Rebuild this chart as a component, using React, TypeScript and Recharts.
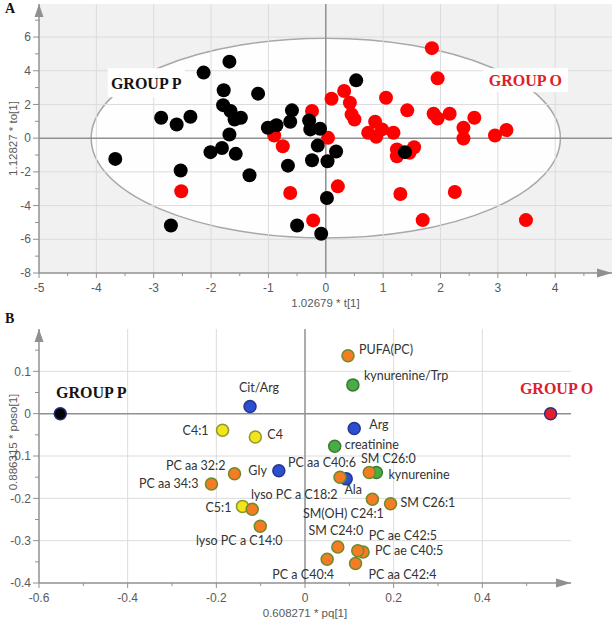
import React from 'react';
import {
  ScatterChart,
  Scatter,
  XAxis,
  YAxis,
  ReferenceLine,
  ReferenceArea,
  ReferenceDot,
  CartesianGrid,
} from 'recharts';

// ---------------- Panel A : scores t[1] vs to[1] ----------------
const groupP_t = [-3.67, -2.87, -2.6, -2.36, -2.53, -2.7, -2.13, -1.68, -1.78, -1.79, -1.66, -1.59, -1.48, -1.68, -2.01, -1.81, -1.57, -1.33, -1.18, -1.01, -0.86, -0.62, -0.59, -0.66, -0.5, -0.29, -0.27, -0.1, -0.14, -0.24, 0.03, 0.18, 0.02, -0.08, 0.53, 1.38];
const groupP_to = [-1.23, 1.21, 0.81, 1.27, -1.92, -5.18, 3.89, 4.54, 2.84, 1.96, 1.61, 1.11, 1.21, 0.22, -0.83, -0.58, -0.93, -2.2, 2.64, 0.62, 0.77, 0.97, 1.65, -1.63, -5.18, 1.05, 0.52, 0.56, -0.44, -1.31, -1.37, -0.79, -3.55, -5.67, 3.43, -0.83];
const groupO_t = [-2.52, -0.9, -0.75, -0.62, -0.24, -0.22, 0.04, 0.1, 0.21, 0.32, 0.42, 0.45, 0.5, 0.74, 0.86, 0.88, 0.98, 1.05, 1.18, 1.24, 1.24, 1.42, 1.54, 1.46, 1.3, 1.69, 1.85, 1.95, 1.88, 1.95, 2.16, 2.25, 2.4, 2.4, 2.59, 2.95, 3.15, 3.49];
const groupO_to = [-3.15, 0.16, -0.48, -3.25, 1.61, -4.88, 0.02, 2.34, -2.86, 2.8, 2.1, 1.41, 1.11, 0.32, 0.97, 0.08, 0.52, 2.4, 0.32, -0.67, -1.07, 1.65, -0.54, -0.87, -3.31, -4.86, 5.34, 3.55, 1.45, 1.17, 1.45, -3.19, 0.62, -0.02, 1.21, 0.16, 0.48, -4.86];

// Hotelling T2 ellipse (semi-axes in data units)
const ellipseRx = 4.09;
const ellipseRy = 5.93;

const aXDomain: [number, number] = [-5, 4.99];
const aYDomain: [number, number] = [-8, 7.96];
const aXMajor = [-5, -4, -3, -2, -1, 0, 1, 2, 3, 4];
const aXMinor = [-4.5, -3.5, -2.5, -1.5, -0.5, 0.5, 1.5, 2.5, 3.5, 4.5];
const aYMajor = [-8, -6, -4, -2, 0, 2, 4, 6];
const aYMinor = [-7, -5, -3, -1, 1, 3, 5, 7];
const aXGrid = [-4, -3, -2, -1, 1, 2, 3, 4];
const aYGrid = [-6, -4, -2, 2, 4, 6];

// annotation anchors (data units)
const aLabels = [
  { text: 'GROUP P', x: -3.13, y: 3.29, w: 77, h: 29, color: '#141414' },
  { text: 'GROUP O', x: 3.48, y: 3.44, w: 85, h: 24, color: '#e0202b' },
];

// ---------------- Panel B : loadings pq[1] vs poso[1] ----------------
const varNames = ['PUFA(PC)', 'kynurenine/Trp', 'Cit/Arg', 'Arg', 'C4:1', 'C4', 'creatinine', 'Gly', 'Ala', 'PC aa C40:6', 'kynurenine', 'SM C26:0', 'PC aa 32:2', 'PC aa 34:3', 'C5:1', 'lyso PC a C18:2', 'lyso PC a C14:0', 'SM(OH) C24:1', 'SM C26:1', 'SM C24:0', 'PC ae C40:5', 'PC ae C42:5', 'PC a C40:4', 'PC aa C42:4', 'GROUP P', 'GROUP O'];
const varClass = ['lipid', 'amine', 'amino', 'amino', 'acyl', 'acyl', 'amine', 'amino', 'amino', 'lipid', 'amine', 'lipid', 'lipid', 'lipid', 'acyl', 'lipid', 'lipid', 'lipid', 'lipid', 'lipid', 'lipid', 'lipid', 'lipid', 'lipid', 'groupP', 'groupO'];
const varPq = [0.097, 0.108, -0.124, 0.111, -0.186, -0.112, 0.067, -0.059, 0.093, 0.079, 0.161, 0.145, -0.159, -0.211, -0.141, -0.119, -0.101, 0.152, 0.193, 0.074, 0.131, 0.119, 0.05, 0.114, -0.552, 0.554];
const varPoso = [0.137, 0.068, 0.017, -0.035, -0.039, -0.055, -0.077, -0.135, -0.154, -0.15, -0.139, -0.139, -0.142, -0.166, -0.219, -0.226, -0.266, -0.202, -0.213, -0.315, -0.327, -0.324, -0.344, -0.354, 0, 0];

const bXDomain: [number, number] = [-0.6, 0.6];
const bYDomain: [number, number] = [-0.4, 0.2];
const bXMajor = [-0.6, -0.4, -0.2, 0, 0.2, 0.4];
const bXMinor = [-0.5, -0.3, -0.1, 0.1, 0.3, 0.5];
const bYMajor = [-0.4, -0.3, -0.2, -0.1, 0, 0.1];
const bYMinor = [-0.35, -0.25, -0.15, -0.05, 0.05, 0.15];
const bXGrid = [-0.4, -0.2, 0.2, 0.4];
const bYGrid = [-0.3, -0.2, -0.1, 0.1];

// ---------------- styling ----------------
const AXIS = '#909090';
const GRID = '#dcdcdc';
const TXT = '#5a5a5a';
const SANS = '"Liberation Sans", Arial, sans-serif';
const LABEL_FONT = 'Lato, "Open Sans", sans-serif';
const SERIF = '"Liberation Serif", "Times New Roman", serif';

const CLASS_STYLE: Record<string, { fill: string; stroke: string }> = {
  lipid: { fill: '#f47c22', stroke: '#6c8a2c' },
  amine: { fill: '#4aac48', stroke: '#3a7a2e' },
  amino: { fill: '#2c4ed0', stroke: '#28368c' },
  acyl: { fill: '#f5e41c', stroke: '#8a9a2e' },
  groupP: { fill: '#050505', stroke: '#1f2a7c' },
  groupO: { fill: '#e3202c', stroke: '#2c2f7e' },
};

// label placement relative to each point (pixels)
const LABEL_PLACE: Record<string, { dx: number; dy: number; anchor: string }> = {
  'PUFA(PC)': { dx: 11, dy: -6, anchor: 'start' },
  'kynurenine/Trp': { dx: 11, dy: -9, anchor: 'start' },
  'Cit/Arg': { dx: 9, dy: -19, anchor: 'middle' },
  Arg: { dx: 15, dy: -4, anchor: 'start' },
  'C4:1': { dx: -14, dy: 0, anchor: 'end' },
  C4: { dx: 12, dy: -2, anchor: 'start' },
  creatinine: { dx: 10, dy: -2, anchor: 'start' },
  Gly: { dx: -12, dy: 0, anchor: 'end' },
  'PC aa C40:6': { dx: -18, dy: -15, anchor: 'middle' },
  Ala: { dx: 7, dy: 11, anchor: 'middle' },
  'SM C26:0': { dx: 19, dy: -14, anchor: 'middle' },
  kynurenine: { dx: 12, dy: 2, anchor: 'start' },
  'PC aa 32:2': { dx: -9, dy: -8, anchor: 'end' },
  'PC aa 34:3': { dx: -13, dy: 0, anchor: 'end' },
  'C5:1': { dx: -11, dy: 1, anchor: 'end' },
  'lyso PC a C18:2': { dx: 42, dy: -15, anchor: 'middle' },
  'lyso PC a C14:0': { dx: -21, dy: 14, anchor: 'middle' },
  'SM(OH) C24:1': { dx: -29, dy: 14, anchor: 'middle' },
  'SM C26:1': { dx: 10, dy: -1, anchor: 'start' },
  'SM C24:0': { dx: -2, dy: -16, anchor: 'middle' },
  'PC ae C40:5': { dx: 12, dy: -1, anchor: 'start' },
  'PC ae C42:5': { dx: 11, dy: -15, anchor: 'start' },
  'PC a C40:4': { dx: -24, dy: 15, anchor: 'middle' },
  'PC aa C42:4': { dx: 13, dy: 11, anchor: 'start' },
  'GROUP P': { dx: 31, dy: -21, anchor: 'middle' },
  'GROUP O': { dx: 6, dy: -25, anchor: 'middle' },
};

// ---------------- derived tables ----------------
const scoresP = groupP_t.map((t, i) => ({ x: t, y: groupP_to[i] }));
const scoresO = groupO_t.map((t, i) => ({ x: t, y: groupO_to[i] }));
const loadings = varNames.map((name, i) => ({ name, cls: varClass[i], x: varPq[i], y: varPoso[i] }));

const sortNum = (a: number[], b: number[]) => [...a, ...b].sort((p, q) => p - q);

function makeTick(side: 'bottom' | 'left', majors: number[]) {
  return (props: any) => {
    const { x, y, payload } = props;
    const v = payload.value;
    const major = majors.some((m) => Math.abs(m - v) < 1e-9);
    if (side === 'bottom') {
      const ay = y - 8;
      return (
        <g>
          <line x1={x} x2={x} y1={ay} y2={ay + (major ? 5 : 3)} stroke={AXIS} strokeWidth={1} />
          {major && (
            <text x={x} y={ay + 19} textAnchor="middle" fontSize={12} fontFamily={SANS} fill={TXT}>
              {String(v)}
            </text>
          )}
        </g>
      );
    }
    const ax = x + 8;
    return (
      <g>
        <line x1={ax - (major ? 6 : 4)} x2={ax} y1={y} y2={y} stroke={AXIS} strokeWidth={1} />
        {major && (
          <text x={ax - 8} y={y} dy="0.35em" textAnchor="end" fontSize={12} fontFamily={SANS} fill={TXT}>
            {String(v)}
          </text>
        )}
      </g>
    );
  };
}

const xTitle = (text: string) => (props: any) => {
  const vb = props.viewBox || {};
  return (
    <text x={vb.x + vb.width / 2} y={vb.y + 34} textAnchor="middle" fontSize={11.5} fontFamily={SANS} fill={TXT}>
      {text}
    </text>
  );
};

const yTitle = (text: string, shift: number) => (props: any) => {
  const vb = props.viewBox || {};
  const cx = vb.x + 13;
  const cy = vb.y + vb.height / 2 + shift;
  return (
    <text
      x={cx}
      y={cy}
      dy="0.35em"
      transform={`rotate(-90 ${cx} ${cy})`}
      textAnchor="middle"
      fontSize={11.5}
      fontFamily={SANS}
      fill={TXT}
    >
      {text}
    </text>
  );
};

const axisLineStyle = { stroke: AXIS, strokeWidth: 1.5 };

// arrow heads drawn at the axis ends
const arrowRight = (p: any) => (
  <path d={`M${p.cx - 15},${p.cy - 4.5} L${p.cx},${p.cy} L${p.cx - 15},${p.cy + 4.5} Z`} fill={AXIS} />
);
const arrowUp = (p: any) => (
  <path d={`M${p.cx - 4.5},${p.cy + 13} L${p.cx},${p.cy} L${p.cx + 4.5},${p.cy + 13} Z`} fill={AXIS} />
);

function PanelA() {
  return (
    <ScatterChart width={615} height={310} margin={{ top: 4, right: 3, bottom: 0, left: 0 }}>
      <CartesianGrid fill="#f1f1f1" horizontal={false} vertical={false} stroke="none" />
      <XAxis
        type="number"
        dataKey="x"
        domain={aXDomain}
        ticks={sortNum(aXMajor, aXMinor)}
        interval={0}
        tickSize={6}
        tickMargin={2}
        tickLine={false}
        tick={makeTick('bottom', aXMajor)}
        axisLine={axisLineStyle}
        height={37}
        label={xTitle('1.02679 * t[1]')}
      />
      <YAxis
        type="number"
        dataKey="y"
        domain={aYDomain}
        ticks={sortNum(aYMajor, aYMinor)}
        interval={0}
        tickSize={6}
        tickMargin={2}
        tickLine={false}
        tick={makeTick('left', aYMajor)}
        axisLine={axisLineStyle}
        width={39}
        label={yTitle('1.12827 * to[1]', 0)}
      />
      <ReferenceArea
        x1={-ellipseRx}
        x2={ellipseRx}
        y1={-ellipseRy}
        y2={ellipseRy}
        zIndex={-50}
        shape={(p: any) => (
          <ellipse
            cx={p.x + p.width / 2}
            cy={p.y + p.height / 2}
            rx={Math.abs(p.width) / 2}
            ry={Math.abs(p.height) / 2}
            fill="#ffffff"
            fillOpacity={0.88}
            stroke="#a8a8a8"
            strokeWidth={1.5}
          />
        )}
      />
      {aXGrid.map((v) => (
        <ReferenceLine key={'ax' + v} x={v} stroke={GRID} strokeWidth={1} zIndex={-40} />
      ))}
      {aYGrid.map((v) => (
        <ReferenceLine key={'ay' + v} y={v} stroke={GRID} strokeWidth={1} zIndex={-40} />
      ))}
      <ReferenceLine x={0} stroke={AXIS} strokeWidth={1.5} zIndex={-30} />
      <ReferenceLine y={0} stroke={AXIS} strokeWidth={1.5} zIndex={-30} />
      {aLabels.map((l) => (
        <ReferenceDot
          key={l.text}
          x={l.x}
          y={l.y}
          r={1}
          zIndex={550}
          shape={(p: any) => (
            <g>
              <rect x={p.cx - l.w / 2} y={p.cy - l.h / 2} width={l.w} height={l.h} fill="#ffffff" />
              <text
                x={p.cx}
                y={p.cy + 6}
                textAnchor="middle"
                fontFamily={SERIF}
                fontWeight="bold"
                fontSize={16}
                fill={l.color}
              >
                {l.text}
              </text>
            </g>
          )}
        />
      ))}
      <ReferenceDot x={aXDomain[1]} y={aYDomain[0]} r={1} ifOverflow="visible" zIndex={700} shape={arrowRight} />
      <ReferenceDot x={aXDomain[0]} y={aYDomain[1]} r={1} ifOverflow="visible" zIndex={700} shape={arrowUp} />
      <Scatter
        data={scoresO}
        isAnimationActive={false}
        shape={(p: any) => <circle cx={p.cx} cy={p.cy} r={7} fill="#ff0000" />}
      />
      <Scatter
        data={scoresP}
        isAnimationActive={false}
        shape={(p: any) => <circle cx={p.cx} cy={p.cy} r={7} fill="#000000" />}
      />
    </ScatterChart>
  );
}

function PanelB() {
  return (
    <ScatterChart width={615} height={312} margin={{ top: 19, right: 44, bottom: 0, left: 0 }}>
      <XAxis
        type="number"
        dataKey="x"
        domain={bXDomain}
        ticks={sortNum(bXMajor, bXMinor)}
        interval={0}
        tickSize={6}
        tickMargin={2}
        tickLine={false}
        tick={makeTick('bottom', bXMajor)}
        axisLine={axisLineStyle}
        height={39}
        label={xTitle('0.608271 * pq[1]')}
      />
      <YAxis
        type="number"
        dataKey="y"
        domain={bYDomain}
        ticks={sortNum(bYMajor, bYMinor)}
        interval={0}
        tickSize={6}
        tickMargin={2}
        tickLine={false}
        tick={makeTick('left', bYMajor)}
        axisLine={axisLineStyle}
        width={39}
        label={yTitle('0.886315 * poso[1]', -14)}
      />
      {bXGrid.map((v) => (
        <ReferenceLine key={'bx' + v} x={v} stroke={GRID} strokeWidth={1} zIndex={-40} />
      ))}
      {bYGrid.map((v) => (
        <ReferenceLine key={'by' + v} y={v} stroke={GRID} strokeWidth={1} zIndex={-40} />
      ))}
      <ReferenceLine x={0} stroke={AXIS} strokeWidth={1.5} zIndex={-30} />
      <ReferenceLine y={0} stroke={AXIS} strokeWidth={1.5} zIndex={-30} />
      <ReferenceDot x={bXDomain[1]} y={bYDomain[0]} r={1} ifOverflow="visible" zIndex={700} shape={arrowRight} />
      <ReferenceDot x={bXDomain[0]} y={bYDomain[1]} r={1} ifOverflow="visible" zIndex={700} shape={arrowUp} />
      <Scatter
        data={loadings}
        isAnimationActive={false}
        shape={(p: any) => {
          const s = CLASS_STYLE[p.payload.cls];
          return <circle cx={p.cx} cy={p.cy} r={6} fill={s.fill} stroke={s.stroke} strokeWidth={1.5} />;
        }}
      />
      <Scatter
        data={loadings}
        isAnimationActive={false}
        shape={(p: any) => {
          const name = p.payload.name;
          const o = LABEL_PLACE[name];
          if (!o) return <g />;
          const isGroup = p.payload.cls === 'groupP' || p.payload.cls === 'groupO';
          if (isGroup) {
            return (
              <text
                x={p.cx + o.dx}
                y={p.cy + o.dy}
                dy="0.35em"
                textAnchor={o.anchor}
                fontFamily={SERIF}
                fontWeight="bold"
                fontSize={16}
                fill={p.payload.cls === 'groupP' ? '#141414' : '#d8222d'}
              >
                {name}
              </text>
            );
          }
          return (
            <text
              x={p.cx + o.dx}
              y={p.cy + o.dy}
              dy="0.35em"
              textAnchor={o.anchor}
              fontFamily={LABEL_FONT}
              fontSize={12.5}
              fill="#333333"
            >
              {name}
            </text>
          );
        }}
      />
    </ScatterChart>
  );
}

export default function App() {
  return (
    <div style={{ position: 'absolute', left: 0, top: 0, width: 615, height: 622, background: '#fff', overflow: 'hidden' }}>
      <div style={{ position: 'absolute', left: 0, top: 0 }}>
        <PanelA />
      </div>
      <div style={{ position: 'absolute', left: 0, top: 310 }}>
        <PanelB />
      </div>
      <div style={{ position: 'absolute', left: 5, top: 1, fontFamily: SERIF, fontWeight: 'bold', fontSize: 14, color: '#111' }}>A</div>
      <div style={{ position: 'absolute', left: 5, top: 311, fontFamily: SERIF, fontWeight: 'bold', fontSize: 14, color: '#111' }}>B</div>
    </div>
  );
}
